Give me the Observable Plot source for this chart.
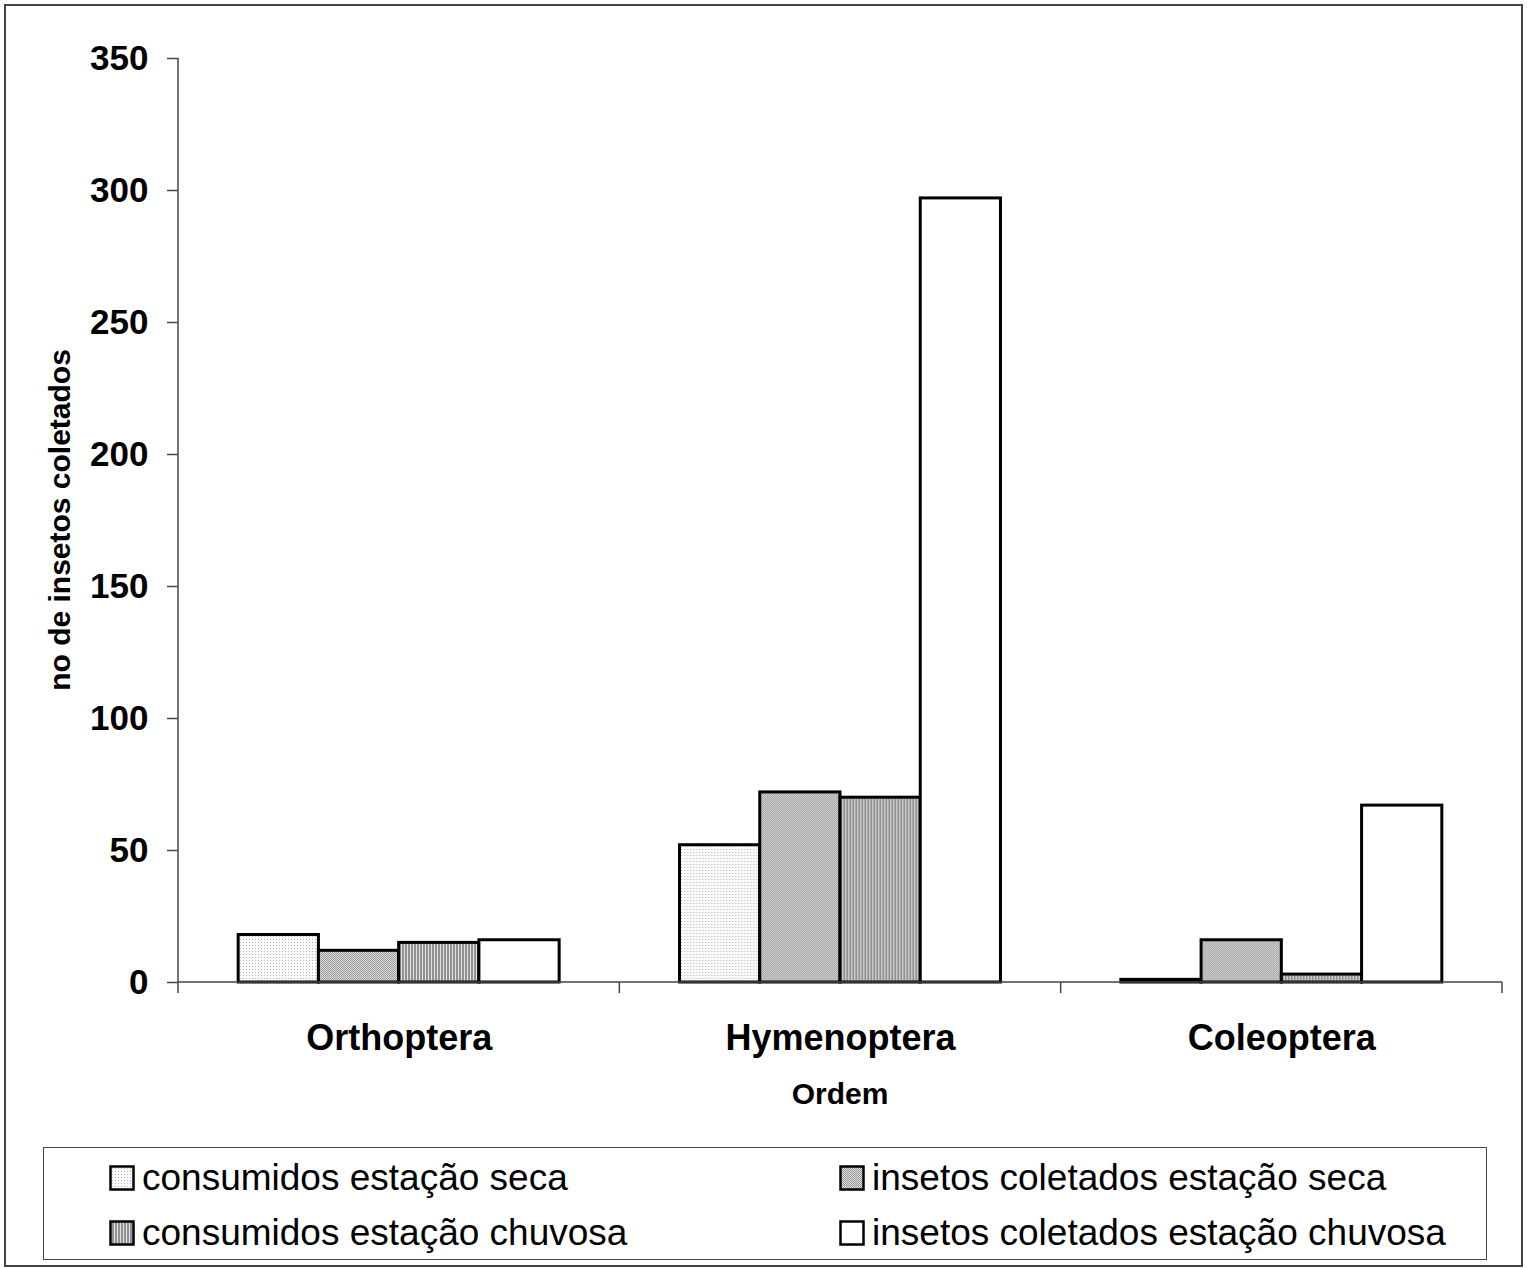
<!DOCTYPE html>
<html><head><meta charset="utf-8">
<script src="https://cdn.jsdelivr.net/npm/d3@7"></script>
<script src="https://cdn.jsdelivr.net/npm/@observablehq/plot@0.6"></script>
<style>
body{margin:0;background:#fff;font-family:"Liberation Sans",Arial,sans-serif;}
#frame{position:absolute;left:4px;top:4px;width:1519px;height:1263px;border:2px solid #444;box-sizing:border-box;}
#chart{position:absolute;left:0;top:0;}
#legend{position:absolute;left:43px;top:1147px;width:1444px;height:113px;border:1.5px solid #444;box-sizing:border-box;}
.item{position:absolute;display:flex;align-items:center;font-size:37px;white-space:nowrap;color:#000;}
.item svg{margin-right:7px;}
</style></head>
<body>
<svg width="0" height="0" style="position:absolute">
  <defs>
    <pattern id="pDots" width="3" height="3" patternUnits="userSpaceOnUse">
      <rect width="3" height="3" fill="#fafafa"/>
      <rect width="1" height="1" fill="#b4b4b4"/>
    </pattern>
    <pattern id="pCheck" width="2" height="2" patternUnits="userSpaceOnUse">
      <rect width="2" height="2" fill="#dcdcdc"/>
      <rect width="1" height="1" fill="#9a9a9a"/>
      <rect x="1" y="1" width="1" height="1" fill="#9a9a9a"/>
    </pattern>
    <pattern id="pStripes" width="3" height="3" patternUnits="userSpaceOnUse">
      <rect width="3" height="3" fill="#e2e2e2"/>
      <rect width="2" height="3" fill="#919191"/>
    </pattern>
  </defs>
</svg>
<div id="frame"></div>
<div id="chart"></div>
<div id="legend"></div>
<script>
const categories = ["Orthoptera", "Hymenoptera", "Coleoptera"];
const seriesNames = ["consumidos estação seca", "insetos coletados estação seca", "consumidos estação chuvosa", "insetos coletados estação chuvosa"];
const consumidosSeca = [18, 52, 1];
const coletadosSeca = [12, 72, 16];
const consumidosChuvosa = [15, 70, 3];
const coletadosChuvosa = [16, 297, 67];
const yTicks = [0, 50, 100, 150, 200, 250, 300, 350];
const patternUrls = ["url(#pDots)", "url(#pCheck)", "url(#pStripes)", "#ffffff"];
const yTitle = "no de insetos coletados";
const xTitle = "Ordem";

const seriesValues = [consumidosSeca, coletadosSeca, consumidosChuvosa, coletadosChuvosa];
const data = [];
categories.forEach((c, i) => seriesNames.forEach((s, j) => data.push({cat: c, series: s, value: seriesValues[j][i]})));

const plot = Plot.plot({
  width: 1527, height: 1140,
  marginLeft: 178, marginRight: 25, marginTop: 58, marginBottom: 158,
  style: {fontFamily: "Liberation Sans, Arial, sans-serif", background: "transparent", overflow: "visible"},
  fx: {domain: categories, padding: 0, round: false},
  x: {domain: seriesNames, paddingInner: 0, paddingOuter: 0.75, round: false, axis: null},
  y: {domain: [0, 350]},
  color: {domain: seriesNames, range: patternUrls},
  marks: [
    Plot.axisY({ticks: yTicks, tickSize: 11, tickPadding: 19, fontSize: 35, fontWeight: "bold", label: null, stroke: "#444", strokeWidth: 1.5, fill: "#000", tickFormat: d => String(d)}),
    Plot.axisFx({anchor: "bottom", tickSize: 0, tickPadding: 42, fontSize: 36, fontWeight: "bold", label: null, fill: "#000"}),
    Plot.barY(data, {fx: "cat", x: "series", y: "value", fill: "series", stroke: "#000", strokeWidth: 3})
  ]
});
document.getElementById("chart").appendChild(plot);

// axis lines, category boundary ticks and titles, placed with the plot's scales
const fx = plot.scale("fx"), y = plot.scale("y");
const fxPos = c => fx.apply(c);
const bw = fx.bandwidth;
const xLeft = fxPos(categories[0]);
const xRight = fxPos(categories[categories.length - 1]) + bw;
const y0 = y.apply(0), yTop = y.apply(350);
const svg = d3.select(plot);
const g = svg.append("g").attr("stroke", "#444").attr("stroke-width", 1.5);
g.append("line").attr("x1", xLeft).attr("x2", xLeft).attr("y1", yTop).attr("y2", y0 + 11);
g.append("line").attr("x1", xLeft).attr("x2", xRight).attr("y1", y0).attr("y2", y0);
categories.forEach(c => {
  const xr = fxPos(c) + bw;
  g.append("line").attr("x1", xr).attr("x2", xr).attr("y1", y0).attr("y2", y0 + 11);
});
svg.append("text").attr("transform", `translate(70,${(yTop + y0) / 2}) rotate(-90)`)
  .attr("text-anchor", "middle").attr("font-size", 30).attr("font-weight", "bold").attr("fill", "#000").text(yTitle);
svg.append("text").attr("x", (xLeft + xRight) / 2).attr("y", 1104)
  .attr("text-anchor", "middle").attr("font-size", 30).attr("font-weight", "bold").attr("fill", "#000").text(xTitle);

// legend
const legend = document.getElementById("legend");
const pos = [[65, 9], [795, 9], [65, 64], [795, 64]];
seriesNames.forEach((s, i) => {
  const d = document.createElement("div");
  d.className = "item";
  d.style.left = pos[i][0] + "px";
  d.style.top = pos[i][1] + "px";
  d.innerHTML = `<svg width="26" height="26"><rect x="1.5" y="1.5" width="23" height="23" fill="${patternUrls[i]}" stroke="#000" stroke-width="2.5"/></svg><span></span>`;
  d.querySelector("span").textContent = s;
  legend.appendChild(d);
});
</script>
</body></html>
